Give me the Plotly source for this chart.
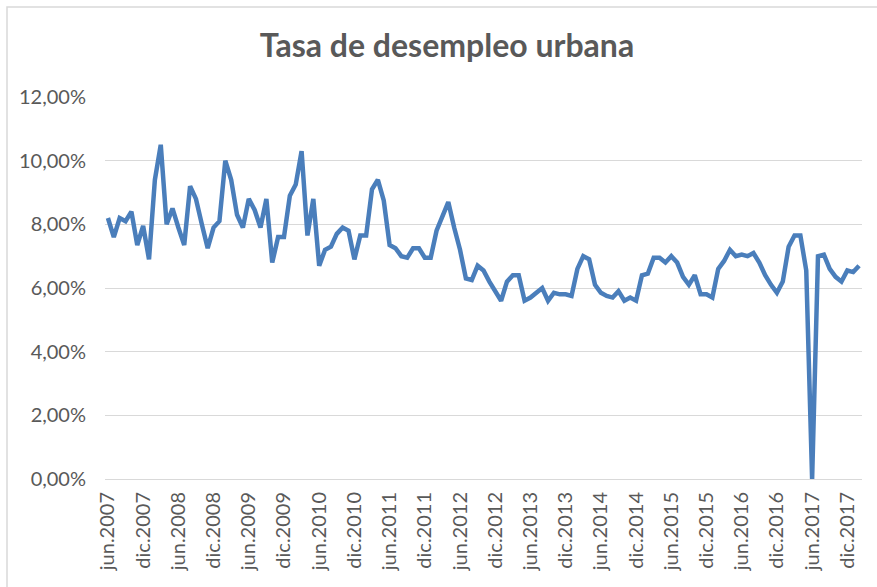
import plotly.graph_objects as go

# Monthly categories jun.2007 .. feb.2018
meses = ["ene", "feb", "mar", "abr", "may", "jun", "jul", "ago", "sep", "oct", "nov", "dic"]
categorias = []
anio, mes = 2007, 5
for _ in range(129):
    categorias.append(f"{meses[mes]}.{anio}")
    mes += 1
    if mes == 12:
        mes = 0
        anio += 1

# Urban unemployment rate (%)
tasa = [
    8.2, 7.6, 8.2, 8.1, 8.4, 7.35, 7.95, 6.9, 9.4, 10.5,
    8.0, 8.5, 7.9, 7.35, 9.2, 8.8, 8.0, 7.25, 7.9, 8.1,
    10.0, 9.4, 8.3, 7.9, 8.8, 8.45, 7.9, 8.8, 6.8, 7.6,
    7.6, 8.9, 9.25, 10.3, 7.65, 8.8, 6.7, 7.2, 7.3, 7.7,
    7.9, 7.8, 6.9, 7.65, 7.65, 9.1, 9.4, 8.75, 7.35, 7.25,
    7.0, 6.95, 7.25, 7.25, 6.95, 6.95, 7.8, 8.3, 8.7, 7.9,
    7.2, 6.3, 6.25, 6.7, 6.55, 6.2, 5.9, 5.6, 6.2, 6.4,
    6.4, 5.6, 5.7, 5.85, 6.0, 5.6, 5.85, 5.8, 5.8, 5.75,
    6.6, 7.0, 6.9, 6.1, 5.85, 5.75, 5.7, 5.9, 5.6, 5.7,
    5.6, 6.4, 6.45, 6.95, 6.95, 6.8, 7.0, 6.8, 6.35, 6.1,
    6.4, 5.8, 5.8, 5.7, 6.6, 6.85, 7.2, 7.0, 7.05, 7.0,
    7.1, 6.8, 6.4, 6.1, 5.85, 6.2, 7.3, 7.65, 7.65, 6.55,
    0.0, 7.0, 7.05, 6.6, 6.35, 6.2, 6.55, 6.5, 6.7,
]

etiquetas_x = categorias[::6]
valores_y = [0, 2, 4, 6, 8, 10, 12]
etiquetas_y = ["0,00%", "2,00%", "4,00%", "6,00%", "8,00%", "10,00%", "12,00%"]

FONT = "Lato, Carlito, Calibri, 'Open Sans', sans-serif"
GRIS = "#595959"
GRID = "#d9d9d9"

fig = go.Figure()
fig.add_trace(go.Scatter(
    x=categorias, y=tasa, mode="lines",
    line=dict(color="#4a7ebb", width=4.5),
    hoverinfo="x+y",
))

W, H = 877, 587
L, R, T, B = 105, 15, 97, 108
pw, ph = W - L - R, H - T - B

def px2paper_x(px):
    return (px - L) / pw

def px2paper_y(py):
    return (H - B - py) / ph

fig.update_layout(
    width=W, height=H,
    margin=dict(l=L, r=R, t=T, b=B),
    paper_bgcolor="white", plot_bgcolor="white",
    showlegend=False,
    font=dict(family=FONT, color=GRIS, size=20),
    title=dict(
        text="<b>Tasa de desempleo urbana</b>",
        x=447 / W, xanchor="center",
        y=(H - 46) / H, yanchor="middle",
        xref="container", yref="container",
        font=dict(family=FONT, size=32, color=GRIS),
    ),
    xaxis=dict(
        type="category",
        categoryorder="array", categoryarray=categorias,
        range=[-0.5, len(categorias) - 0.5],
        tickmode="array", tickvals=etiquetas_x, ticktext=etiquetas_x,
        tickangle=-90,
        showgrid=False,
        showline=True, linecolor=GRID, linewidth=1,
        ticks="",
        ticklabelstandoff=4,
        tickfont=dict(family=FONT, size=20, color=GRIS),
        zeroline=False,
    ),
    yaxis=dict(
        range=[0, 12],
        tickmode="array", tickvals=valores_y, ticktext=etiquetas_y,
        showgrid=True, gridcolor=GRID, gridwidth=1,
        zeroline=False, showline=False, ticks="",
        ticklabelstandoff=18,
        tickfont=dict(family=FONT, size=20, color=GRIS),
    ),
    shapes=[dict(
        type="rect", xref="paper", yref="paper",
        x0=px2paper_x(7), x1=px2paper_x(900),
        y0=px2paper_y(620), y1=px2paper_y(7),
        line=dict(color=GRID, width=1.5),
        fillcolor="rgba(0,0,0,0)", layer="below",
    )],
)

fig.write_html(
    "out.html",
    config={"displayModeBar": False},
    post_script="document.body.style.margin='0';document.body.style.overflow='hidden';",
)
